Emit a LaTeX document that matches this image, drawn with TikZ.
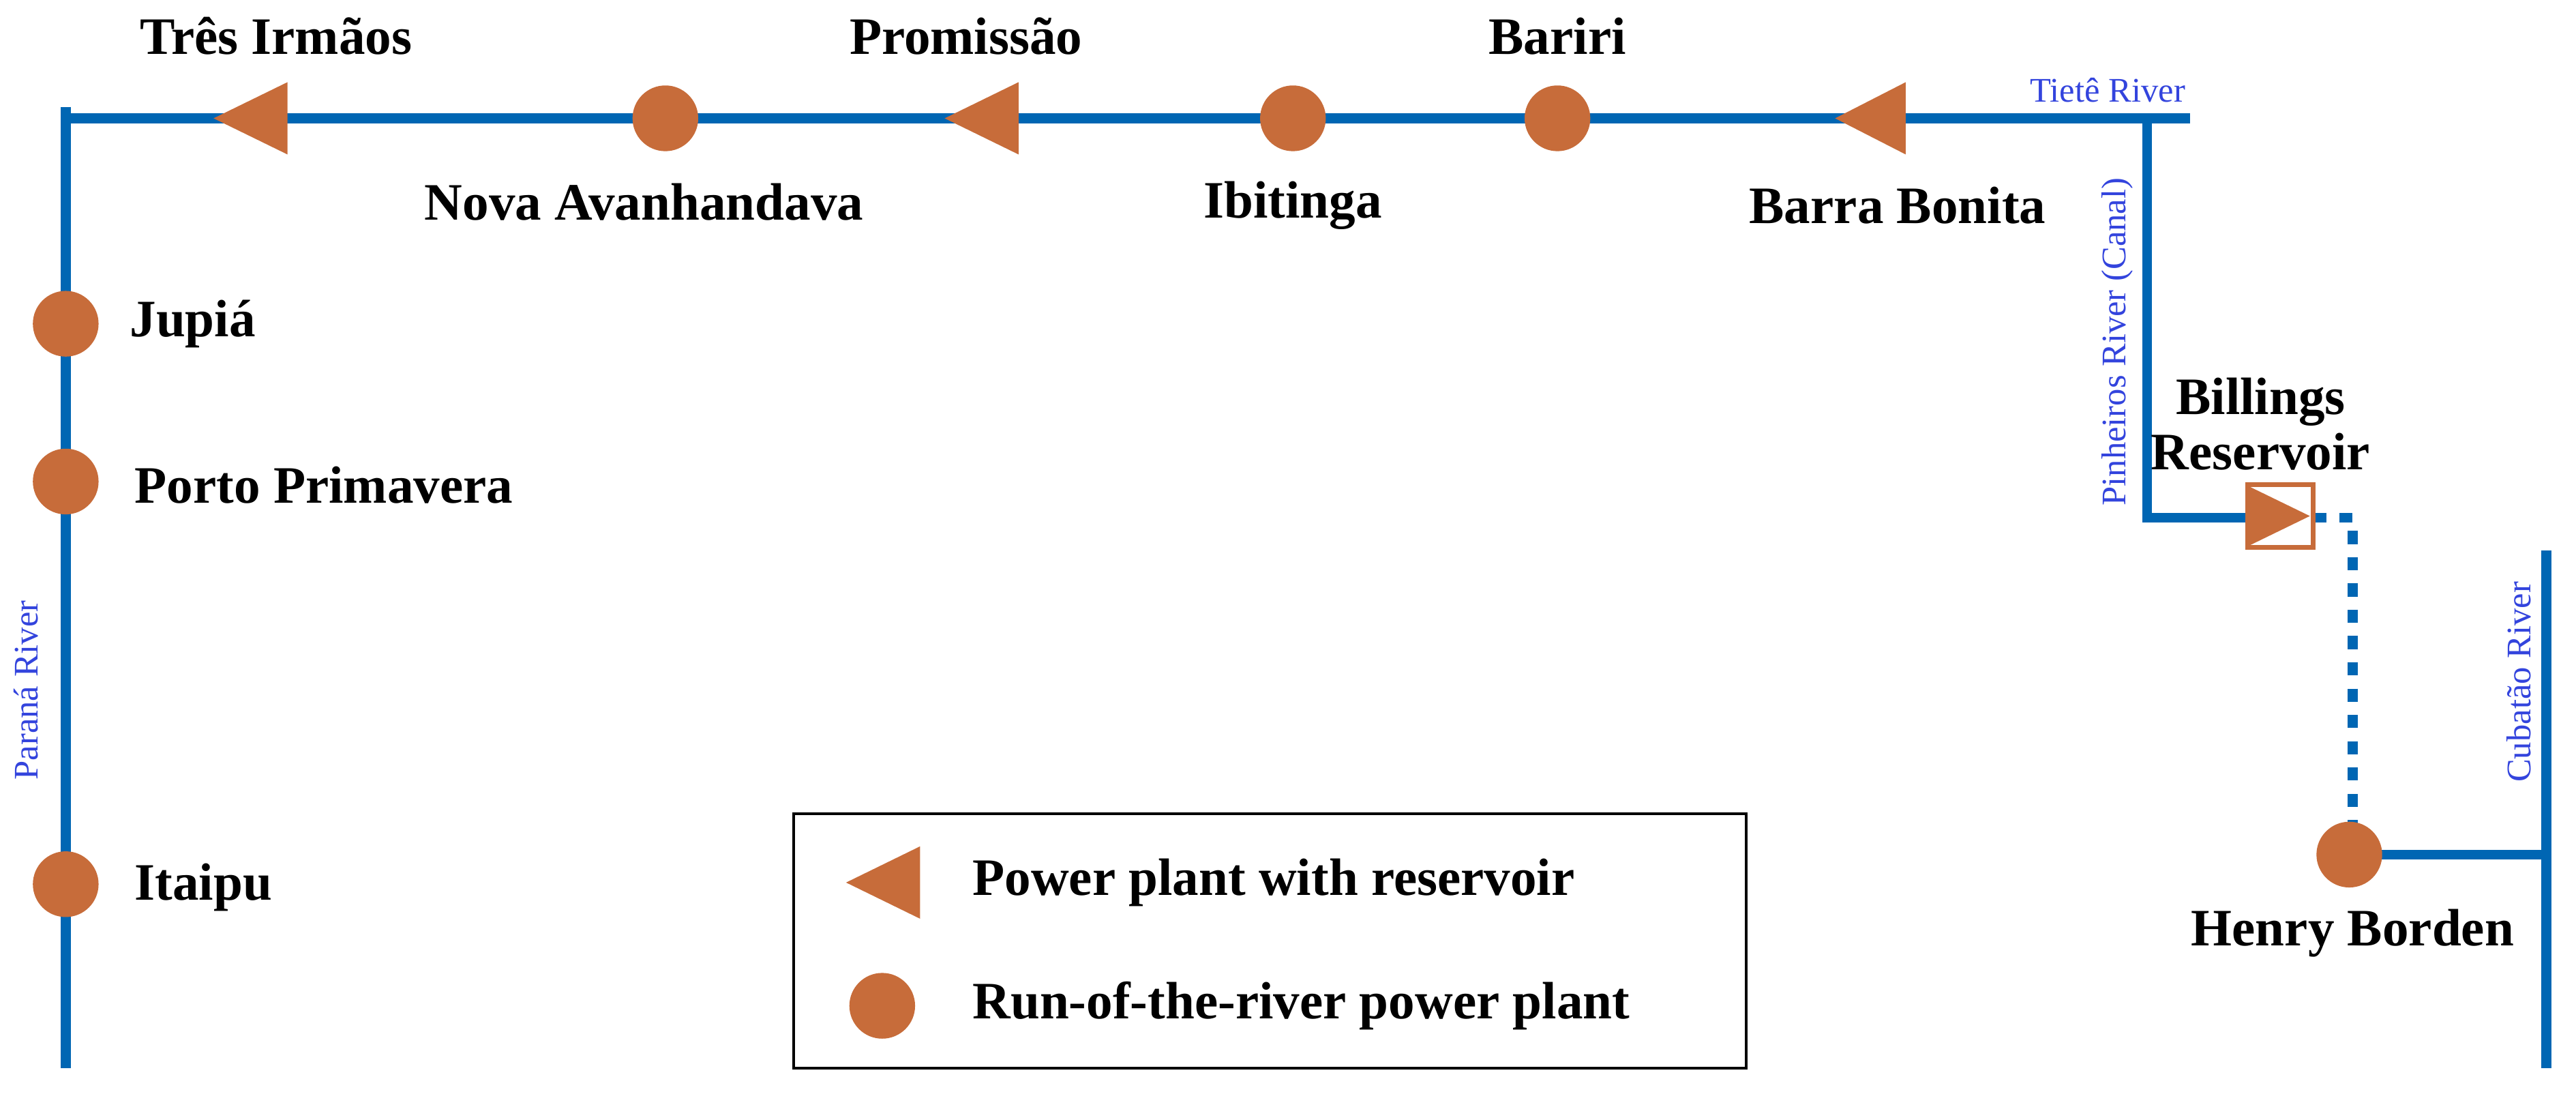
\documentclass[tikz,border=0pt]{standalone}
\usepackage{fontspec}
\setmainfont{Liberation Serif}
\begin{document}
\begin{tikzpicture}[x=0.5pt,y=-0.5pt,
 riv/.style={line width=3pt,draw={rgb,255:red,0;green,102;blue,179}},
 ror/.style={circle,fill={rgb,255:red,199;green,108;blue,58},minimum size=20pt,inner sep=0pt},
 lab/.style={font=\bfseries\fontsize{16}{17}\selectfont},
 rl/.style={text={rgb,255:red,51;green,68;blue,221},font=\fontsize{10.5}{12}\selectfont},
 tri/.style={fill={rgb,255:red,199;green,108;blue,58}}]
\useasboundingbox (0,0) rectangle (1568,672);
\definecolor{pl}{RGB}{199,108,58}
% rivers
\draw[riv] (38,72) -- (1333,72);
\draw[riv] (40,65) -- (40,650);
\draw[riv] (1307,72) -- (1307,315) -- (1370,315);
\draw[riv] (1550,335) -- (1550,650);
\draw[riv] (1430,520) -- (1550,520);
\draw[riv,dash pattern=on 4pt off 4pt] (1408,315) -- (1432,315) -- (1432,505);
% triangles
\fill[tri] (130,72) -- (175,50) -- (175,94) -- cycle;
\fill[tri] (575,72) -- (620,50) -- (620,94) -- cycle;
\fill[tri] (1117,72) -- (1160,50) -- (1160,94) -- cycle;
% billings box
\node[draw=pl,line width=1.5pt,fill=white,minimum width=20pt,minimum height=19pt,inner sep=0pt] (bil) at (1388,314) {};
\fill[tri] (1369,296) -- (1406,314) -- (1369,332) -- cycle;
% circles
\node[ror] (nova) at (405,72) {};
\node[ror] (ibi) at (787,72) {};
\node[ror] (bar) at (948,72) {};
\node[ror] (jup) at (40,197) {};
\node[ror] (por) at (40,293) {};
\node[ror] (ita) at (40,538) {};
\node[ror] (hen) at (1430,520) {};
% labels
\node[lab] at (168,22) {Três Irmãos};
\node[lab] at (588,22) {Promissão};
\node[lab] at (948,22) {Bariri};
\node[lab] at (392,123) {Nova Avanhandava};
\node[lab] at (787,125) {Ibitinga};
\node[lab] at (1155,125) {Barra Bonita};
\node[lab,anchor=west] at (72,197) {Jupiá};
\node[lab,anchor=west] at (75,295) {Porto Primavera};
\node[lab,anchor=west] at (75,540) {Itaipu};
\node[lab,align=center] at (1376,258) {Billings\\Reservoir};
\node[lab] at (1432,568) {Henry Borden};
\node[rl] at (1283,55) {Tietê River};
\node[rl,rotate=90] at (1289,208) {Pinheiros River (Canal)};
\node[rl,rotate=90] at (16,420) {Paraná River};
\node[rl,rotate=90] at (1533,415) {Cubatão River};
% legend
\draw[line width=0.8pt] (483,495) rectangle (1063,650);
\fill[tri] (515,537) -- (560,515) -- (560,559) -- cycle;
\node[ror] (lc) at (537,612) {};
\node[lab,anchor=west] at (585,537) {Power plant with reservoir};
\node[lab,anchor=west] at (585,612) {Run-of-the-river power plant};
\end{tikzpicture}
\end{document}
